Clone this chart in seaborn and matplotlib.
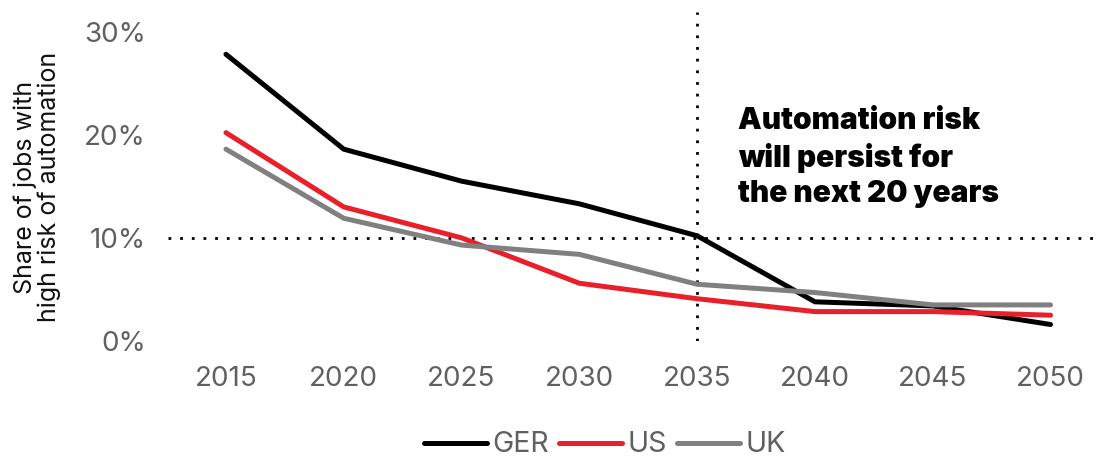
import matplotlib
matplotlib.use("Agg")
import matplotlib.pyplot as plt
import seaborn as sns
import pandas as pd

years = [2015, 2020, 2025, 2030, 2035, 2040, 2045, 2050]
ger = [27.8, 18.6, 15.5, 13.3, 10.2, 3.8, 3.4, 1.6]
us = [20.2, 13.0, 10.0, 5.6, 4.1, 2.85, 2.85, 2.5]
uk = [18.6, 11.9, 9.3, 8.4, 5.5, 4.7, 3.5, 3.5]
series_names = ["GER", "US", "UK"]
colors = ["#000000", "#e8202a", "#808080"]
yticks = [0, 10, 20, 30]
ytick_labels = ["0%", "10%", "20%", "30%"]

sns.set_theme(style="white")
plt.rcParams["font.family"] = ["Inter", "DejaVu Sans"]

df = pd.DataFrame({
    "year": years * 3,
    "value": ger + us + uk,
    "country": sum([[n] * len(years) for n in series_names], []),
})

fig = plt.figure(figsize=(11, 4.58), dpi=100)
ax = fig.add_axes([168 / 1100, 1 - 341 / 458, 1 - 168 / 1100, (341 - 12) / 458])

sns.lineplot(data=df, x="year", y="value", hue="country", hue_order=series_names,
             palette=colors, linewidth=3.6, ax=ax, legend=False, sort=False)
for ln in ax.get_lines():
    ln.set_solid_capstyle("round")
    ln.set_solid_joinstyle("miter")

ax.set_xlim(2012.54, 2052.1)
ax.set_ylim(0, 31.9)

ax.axhline(10, color="black", linestyle=(0, (1, 3.2)), linewidth=2, zorder=0)
ax.axvline(2035, color="black", linestyle=(0, (1, 3.2)), linewidth=2, zorder=0)

ax.set_xticks(years)
ax.set_xticklabels([str(y) for y in years])
ax.set_yticks(yticks)
ax.set_yticklabels(ytick_labels)
ax.tick_params(axis="both", length=0, labelsize=20, colors="#606060")
ax.tick_params(axis="y", pad=16)
ax.tick_params(axis="x", pad=18)
for s in ax.spines.values():
    s.set_visible(False)
ax.set_xlabel("")
ax.set_ylabel("")

fig.text(0.034, 1 - 187 / 458, "Share of jobs with\nhigh risk of automation",
         rotation=90, ha="center", va="center", fontsize=18, color="#111111",
         multialignment="center", linespacing=1.0)

ax.text(2036.75, 22.7, "Automation risk\nwill persist for\nthe next 20 years",
        fontsize=21.5, fontweight=900, color="black", ha="left", va="top",
        linespacing=1.33)

handles = ax.get_lines()[:3]
leg = fig.legend(handles, series_names, loc="center", bbox_to_anchor=(0.55, 1 - 445 / 458),
                 ncol=3, frameon=False, fontsize=20.5, handlelength=2.2,
                 handletextpad=0.2, columnspacing=0.35)
for t in leg.get_texts():
    t.set_color("#606060")

fig.savefig("out.png", dpi=100)
